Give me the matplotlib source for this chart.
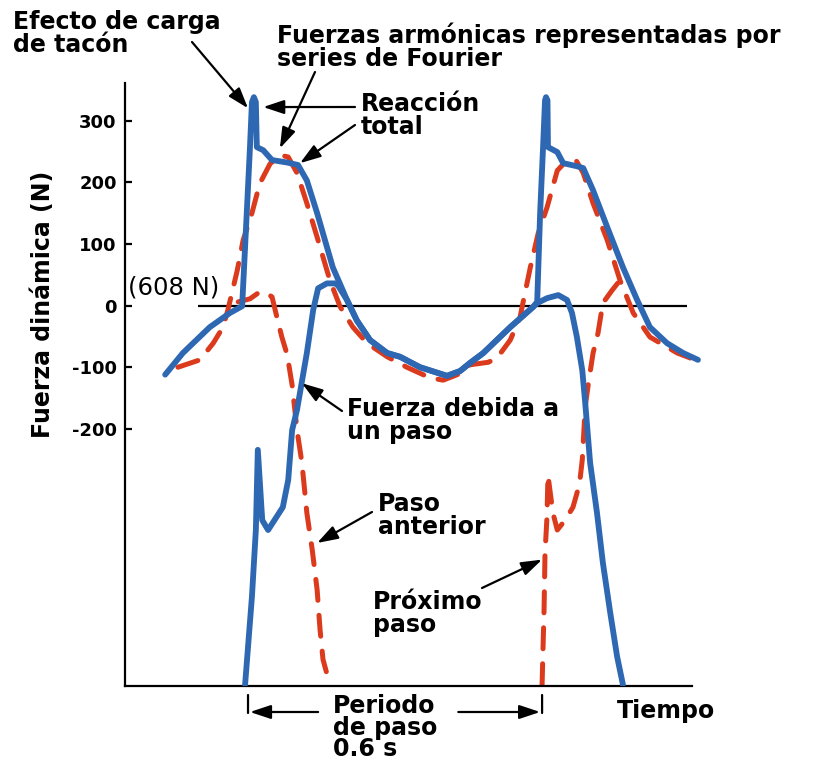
import matplotlib.pyplot as plt

# time (s, 0 = heel strike) and dynamic force (N)
t_total = [-0.169, -0.133, -0.078, -0.037, -0.012, -0.006, 0.004, 0.008, 0.012, 0.016, 0.018,
           0.031, 0.049, 0.065, 0.080, 0.102, 0.120, 0.141, 0.173, 0.202, 0.222, 0.249, 0.284,
           0.310, 0.351, 0.406, 0.433, 0.453, 0.480, 0.535, 0.582, 0.590, 0.596, 0.602, 0.606,
           0.608, 0.611, 0.612, 0.631, 0.643, 0.671, 0.684, 0.704, 0.733, 0.765, 0.794, 0.820,
           0.855, 0.888, 0.918]
f_total = [-112, -77, -35, -12, -1, 95, 257, 330, 338, 330, 257,
           252, 236, 234, 232, 228, 203, 150, 62, 9, -24, -56, -77,
           -83, -100, -114, -106, -93, -77, -35, -2, 6, 150, 257, 333,
           338, 333, 257, 249, 231, 226, 223, 187, 127, 62, 9, -35,
           -61, -77, -88]

t_fourier = [-0.143, -0.098, -0.071, -0.051, -0.041, -0.033, -0.022, -0.010, 0.008, 0.024, 0.045,
             0.065, 0.082, 0.100, 0.120, 0.141, 0.167, 0.188, 0.214, 0.243, 0.284, 0.324, 0.371,
             0.398, 0.427, 0.453, 0.490, 0.508, 0.535, 0.555, 0.565, 0.576, 0.592, 0.610, 0.631,
             0.651, 0.669, 0.684, 0.704, 0.733, 0.759, 0.786, 0.820, 0.876, 0.922]
f_fourier = [-100, -88, -61, -35, -7, 20, 57, 106, 150, 198, 230,
             244, 241, 215, 166, 111, 41, -2, -35, -61, -83, -100, -117,
             -121, -112, -96, -92, -85, -56, -19, 20, 62, 117, 159, 219,
             236, 236, 215, 166, 106, 41, -12, -51, -77, -91]

# force due to one step (blue) and the neighbouring steps (red dashed)
t_step = [-0.006, 0.008, 0.016, 0.020, 0.029, 0.041, 0.071, 0.082, 0.090, 0.100, 0.120,
          0.133, 0.143, 0.161, 0.178, 0.184, 0.202, 0.222, 0.249, 0.284, 0.310, 0.351, 0.406,
          0.433, 0.453, 0.480, 0.535, 0.582, 0.590, 0.610, 0.633, 0.651, 0.661, 0.671, 0.682,
          0.688, 0.698, 0.712, 0.724, 0.739, 0.753, 0.765]
f_step = [-615, -472, -364, -234, -348, -364, -327, -283, -202, -169, -77,
          -7, 28, 36, 36, 32, 9, -24, -56, -77, -83, -100, -114,
          -106, -93, -77, -35, -2, 4, 12, 17, 9, -12, -51, -105,
          -158, -255, -336, -417, -498, -569, -615]

t_prev = [-0.020, 0.004, 0.020, 0.035, 0.049, 0.059, 0.069, 0.080, 0.090, 0.100, 0.110,
          0.120, 0.131, 0.141, 0.147, 0.153, 0.167]
f_prev = [6, 11, 20, 22, 14, -19, -51, -80, -129, -202, -255,
          -336, -396, -461, -526, -574, -615]

t_next = [0.600, 0.602, 0.604, 0.606, 0.610, 0.612, 0.622, 0.631, 0.647, 0.663, 0.673,
          0.678, 0.682, 0.688, 0.694, 0.704, 0.714, 0.724, 0.733, 0.743, 0.759]
f_next = [-615, -553, -494, -401, -343, -275, -336, -364, -348, -327, -299,
          -278, -250, -164, -129, -77, -45, 4, 14, 25, 41]

y_ticks = [-200, -100, 0, 100, 200, 300]
y_labels = ['-200', '-100', '0', '100', '200', '300']

W, H = 823, 760
blue = '#2f68b2'
red = '#dc3a1c'
dash = (0, (4.2, 3.0))

fig = plt.figure(figsize=(W / 100, H / 100), dpi=100)
ax = fig.add_axes([125 / W, 74 / H, 595 / W, 603 / H])

ax.hlines(0, -0.102, 0.896, color='black', lw=1.6, zorder=1)
ax.plot(t_fourier, f_fourier, color=red, lw=3.6, ls=dash, dash_capstyle='round', zorder=2)
ax.plot(t_prev, f_prev, color=red, lw=3.6, ls=dash, dash_capstyle='round', zorder=2)
ax.plot(t_next, f_next, color=red, lw=3.6, ls=dash, dash_capstyle='round', zorder=2)
ax.plot(t_total, f_total, color=blue, lw=4.2, solid_joinstyle='round', solid_capstyle='round', zorder=3)
ax.plot(t_step, f_step, color=blue, lw=4.2, solid_joinstyle='round', solid_capstyle='round', zorder=3)

ax.set_xlim(-0.251, 0.963)
ax.set_ylim(-617, 361)
ax.spines['top'].set_visible(False)
ax.spines['right'].set_visible(False)
ax.spines['bottom'].set_bounds(-0.251, 0.906)
ax.spines['left'].set_linewidth(1.6)
ax.spines['bottom'].set_linewidth(1.6)
ax.set_xticks([])
ax.set_yticks(y_ticks)
ax.set_yticklabels(y_labels, fontweight='bold', fontsize=13)
ax.tick_params(axis='y', direction='in', length=5, width=1.6, pad=6)


def label(x, y, s, **kw):
    opts = dict(fontsize=17, fontweight='bold', va='top', ha='left', linespacing=0.97)
    opts.update(kw)
    fig.text(x / W, 1 - y / H, s, **opts)


arrow = dict(arrowstyle='-|>,head_length=0.9,head_width=0.3', color='black', lw=1.6,
             mutation_scale=14, shrinkA=0, shrinkB=0)


def point(xy_data, x, y):
    ax.annotate('', xy=xy_data, xytext=(x, H - y), textcoords='figure pixels', arrowprops=arrow)


label(13, 10, 'Efecto de carga\nde tacón')
label(277, 22, 'Fuerzas armónicas representadas por\nseries de Fourier')
label(361, 92, 'Reacción\ntotal')
label(347, 397, 'Fuerza debida a\nun paso')
label(378, 492, 'Paso\nanterior')
label(373, 590, 'Próximo\npaso')
label(333, 694, 'Periodo\nde paso\n0.6 s', linespacing=0.88)
label(617, 699, 'Tiempo')
label(128, 287, '(608 N)', fontweight='normal', fontsize=17.5, va='center')
fig.text(43 / W, 1 - 304 / H, 'Fuerza dinámica (N)', rotation=90, fontsize=17,
         fontweight='bold', ha='center', va='center')

point((0.0, 320), 192, 42)
point((0.065, 255), 315, 72)
point((0.031, 322), 355, 107)
point((0.106, 231), 355, 125)
point((0.110, -126), 342, 411)
point((0.141, -385), 372, 512)
point((0.600, -412), 482, 588)

# step period marker below the axis
for t0 in (0.0, 0.6):
    ax.annotate('', xy=(t0, 47), xycoords=('data', 'figure pixels'),
                xytext=(t0, 65), textcoords=('data', 'figure pixels'),
                arrowprops=dict(arrowstyle='-', color='black', lw=1.6, shrinkA=0, shrinkB=0))
ax.annotate('', xy=(0.004, 48), xycoords=('data', 'figure pixels'),
            xytext=(0.143, 48), textcoords=('data', 'figure pixels'), arrowprops=arrow)
ax.annotate('', xy=(0.596, 48), xycoords=('data', 'figure pixels'),
            xytext=(0.429, 48), textcoords=('data', 'figure pixels'), arrowprops=arrow)

fig.savefig('out.png', dpi=100)
